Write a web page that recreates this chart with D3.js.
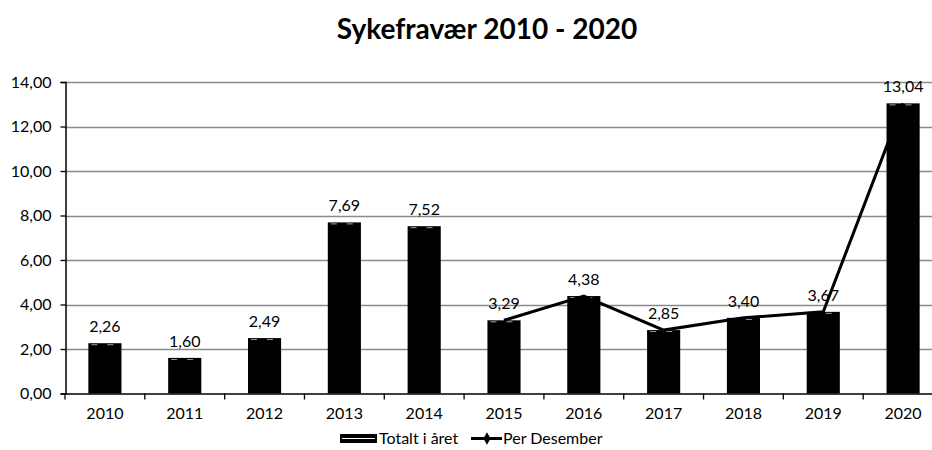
<!DOCTYPE html>
<html><head><meta charset="utf-8">
<script src="https://cdn.jsdelivr.net/npm/d3@7"></script>
<style>body{margin:0;background:#fff}svg{display:block}text{font-family:Lato,"Open Sans",sans-serif}</style>
</head><body>
<svg id="c" width="932" height="450"></svg>
<script>
const years = ["2010","2011","2012","2013","2014","2015","2016","2017","2018","2019","2020"];
const totalValues = [2.26,1.60,2.49,7.69,7.52,3.29,4.38,2.85,3.40,3.67,13.04];
const desYears = ["2015","2016","2017","2018","2019","2020"];
const desValues = [3.29,4.38,2.85,3.40,3.67,13.04];
const yTicks = [0,2,4,6,8,10,12,14];
const title = "Sykefravær 2010 - 2020";
const seriesNames = ["Totalt i året","Per Desember"];

const svg = d3.select("#c");
const plotLeft = 65, plotRight = 943, plotTop = 82, plotBottom = 393.5;
const fmt = v => v.toFixed(2).replace(".", ",");
const x = d3.scaleBand().domain(years).range([plotLeft, plotRight]).paddingInner(0.585).paddingOuter(0.2925);
const y = d3.scaleLinear().domain([0,14]).range([plotBottom, plotTop]);

svg.append("text").attr("x", 487).attr("y", 39).attr("text-anchor","middle")
  .attr("font-size", 28).attr("font-weight", 700).text(title);

// gridlines
svg.append("g").selectAll("line").data(yTicks.filter(d=>d>0)).join("line")
  .attr("x1", plotLeft).attr("x2", plotRight).attr("y1", d=>Math.round(y(d))+0.5).attr("y2", d=>Math.round(y(d))+0.5)
  .attr("stroke", "#8a8a8a").attr("stroke-width", 1.3);

// y axis
const ya = svg.append("g").attr("transform", `translate(${plotLeft+0.5},0)`)
  .call(d3.axisLeft(y).tickValues(yTicks).tickFormat(fmt).tickSize(5).tickPadding(9));
ya.select(".domain").attr("stroke","#000").attr("stroke-width",1.5);
ya.selectAll(".tick line").attr("stroke","#000").attr("stroke-width",1.3);
ya.selectAll("text").attr("font-size",16).attr("fill","#000").attr("font-family","Lato,sans-serif");

// bars
const bw = x.bandwidth();
const barData = years.map((d,i)=>({year:d,v:totalValues[i]}));
svg.append("g").selectAll("rect").data(barData).join("rect")
  .attr("x", d=>x(d.year)).attr("width", bw).attr("y", d=>y(d.v)).attr("height", d=>plotBottom - y(d.v))
  .attr("fill","#000");
svg.append("g").selectAll("line").data(barData).join("line")
  .attr("x1", d=>x(d.year)+3).attr("x2", d=>x(d.year)+bw-3)
  .attr("y1", d=>y(d.v)+1.5).attr("y2", d=>y(d.v)+1.5)
  .attr("stroke","#fff").attr("stroke-width",0.8).attr("stroke-dasharray","6,10").attr("opacity",0.8);

// x axis
const xa = svg.append("g").attr("transform", `translate(0,${plotBottom})`)
  .call(d3.axisBottom(x).tickSize(0).tickPadding(14));
xa.select(".domain").attr("stroke","#000").attr("stroke-width",1.5);
xa.selectAll("text").attr("font-size",16).attr("fill","#000").attr("font-family","Lato,sans-serif");
const step = x.step();
svg.append("g").selectAll("line").data(d3.range(0, years.length+1)).join("line")
  .attr("x1", i=>plotLeft + i*step).attr("x2", i=>plotLeft + i*step)
  .attr("y1", plotBottom).attr("y2", plotBottom+6).attr("stroke","#000").attr("stroke-width",1.3);

// line
const line = d3.line().x(d=>x(d.year)+bw/2).y(d=>y(d.v));
const ld = desYears.map((d,i)=>({year:d,v:desValues[i]}));
svg.append("path").datum(ld).attr("d", line).attr("fill","none").attr("stroke","#000").attr("stroke-width",3);

// labels
svg.append("g").selectAll("text").data(barData).join("text")
  .attr("x", d=>x(d.year)+bw/2).attr("y", d=>y(d.v)-11).attr("text-anchor","middle")
  .attr("font-size",16).text(d=>fmt(d.v));

// legend
const lg = svg.append("g");
lg.append("rect").attr("x",340).attr("y",434).attr("width",37).attr("height",9).attr("fill","#000");
lg.append("line").attr("x1",342).attr("x2",375).attr("y1",438.5).attr("y2",438.5).attr("stroke","#fff").attr("stroke-width",1);
lg.append("text").attr("x",379).attr("y",444).attr("font-size",16).text(seriesNames[0]);
lg.append("line").attr("x1",471).attr("x2",502).attr("y1",438.5).attr("y2",438.5).attr("stroke","#000").attr("stroke-width",3);
lg.append("path").attr("d", d3.symbol().type(d3.symbolDiamond).size(45)).attr("transform","translate(487,438.5)").attr("fill","#000");
lg.append("text").attr("x",503).attr("y",444).attr("font-size",16).text(seriesNames[1]);
</script>
</body></html>
